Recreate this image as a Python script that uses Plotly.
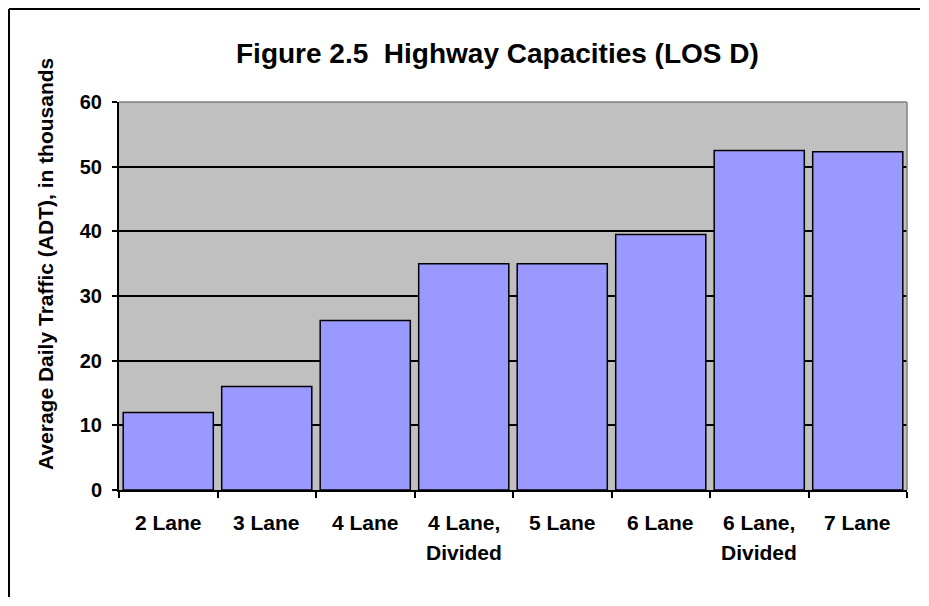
import plotly.graph_objects as go

categories = ["2 Lane", "3 Lane", "4 Lane", "4 Lane,|Divided", "5 Lane", "6 Lane", "6 Lane,|Divided", "7 Lane"]
values = [12.0, 16.0, 26.2, 35.0, 35.0, 39.5, 52.5, 52.3]
y_ticks = [0, 10, 20, 30, 40, 50, 60]

# the page places the figure 8 px in from the top-left corner
OFF = 8
W, H = 913, 590
L, R, T, B = 111, 14, 94, 108
pw, ph = W - L - R, H - T - B

def px_x(p):  # screen pixel -> paper x
    return (p - OFF - L) / pw

def px_y(p):  # screen pixel -> paper y
    return (H - B - (p - OFF)) / ph

fig = go.Figure()
fig.add_trace(go.Bar(
    x=list(range(len(categories))), y=values,
    marker=dict(color="#9999FF", line=dict(color="black", width=1.5)),
    showlegend=False, hoverinfo="skip",
))

font = "Liberation Sans, Arial, sans-serif"
annotations = []
for i, c in enumerate(categories):
    parts = c.split("|")
    for j, part in enumerate(parts):
        annotations.append(dict(
            x=i, xref="x", y=px_y(522 + 30 * j), yref="paper",
            text="<b>%s</b>" % part, showarrow=False,
            xanchor="center", yanchor="middle",
            font=dict(family=font, size=21, color="black"),
        ))
annotations.append(dict(
    x=px_x(46), xref="paper", y=px_y(264), yref="paper",
    text="<b>Average Daily Traffic (ADT), in thousands</b>", textangle=-90,
    showarrow=False, xanchor="center", yanchor="middle",
    font=dict(family=font, size=21, color="black"),
))
annotations.append(dict(
    x=px_x(497), xref="paper", y=px_y(53), yref="paper",
    text="<b>Figure 2.5  Highway Capacities (LOS D)</b>",
    showarrow=False, xanchor="center", yanchor="middle",
    font=dict(family=font, size=28, color="black"),
))

shapes = [
    # outer chart border: only the left and top edges fall inside the view
    dict(type="line", xref="paper", yref="paper",
         x0=px_x(9), x1=px_x(9), y0=px_y(597), y1=px_y(9),
         line=dict(color="black", width=2), layer="above"),
    dict(type="line", xref="paper", yref="paper",
         x0=px_x(9), x1=px_x(920), y0=px_y(9), y1=px_y(9),
         line=dict(color="black", width=2), layer="above"),
    # plot area top and right grey border
    dict(type="line", xref="paper", yref="paper", x0=0, x1=1, y0=1, y1=1,
         line=dict(color="#808080", width=1.5), layer="above"),
    dict(type="line", xref="paper", yref="paper", x0=1, x1=1, y0=0, y1=1,
         line=dict(color="#808080", width=1.5), layer="above"),
]

fig.update_layout(
    width=W, height=H,
    margin=dict(l=L, r=R, t=T, b=B),
    paper_bgcolor="white", plot_bgcolor="#C0C0C0",
    bargap=0.085,
    annotations=annotations, shapes=shapes,
    font=dict(family=font, color="black"),
)
fig.update_xaxes(
    type="linear", range=[-0.5, len(categories) - 0.5],
    tickvals=[i - 0.5 for i in range(len(categories) + 1)],
    showticklabels=False, ticks="outside", ticklen=6, tickcolor="black", tickwidth=1.5,
    showgrid=False, zeroline=False, showline=True, linecolor="black", linewidth=2,
)
fig.update_yaxes(
    range=[0, 60], tickvals=y_ticks, ticktext=["<b>%d</b>" % v for v in y_ticks],
    ticks="outside", ticklen=5, tickcolor="black", tickwidth=1.5,
    tickfont=dict(family=font, size=20, color="black"), ticklabelstandoff=6,
    showgrid=True, gridcolor="black", gridwidth=1.5,
    zeroline=False, showline=True, linecolor="black", linewidth=2,
)

fig.write_html("out.html")
